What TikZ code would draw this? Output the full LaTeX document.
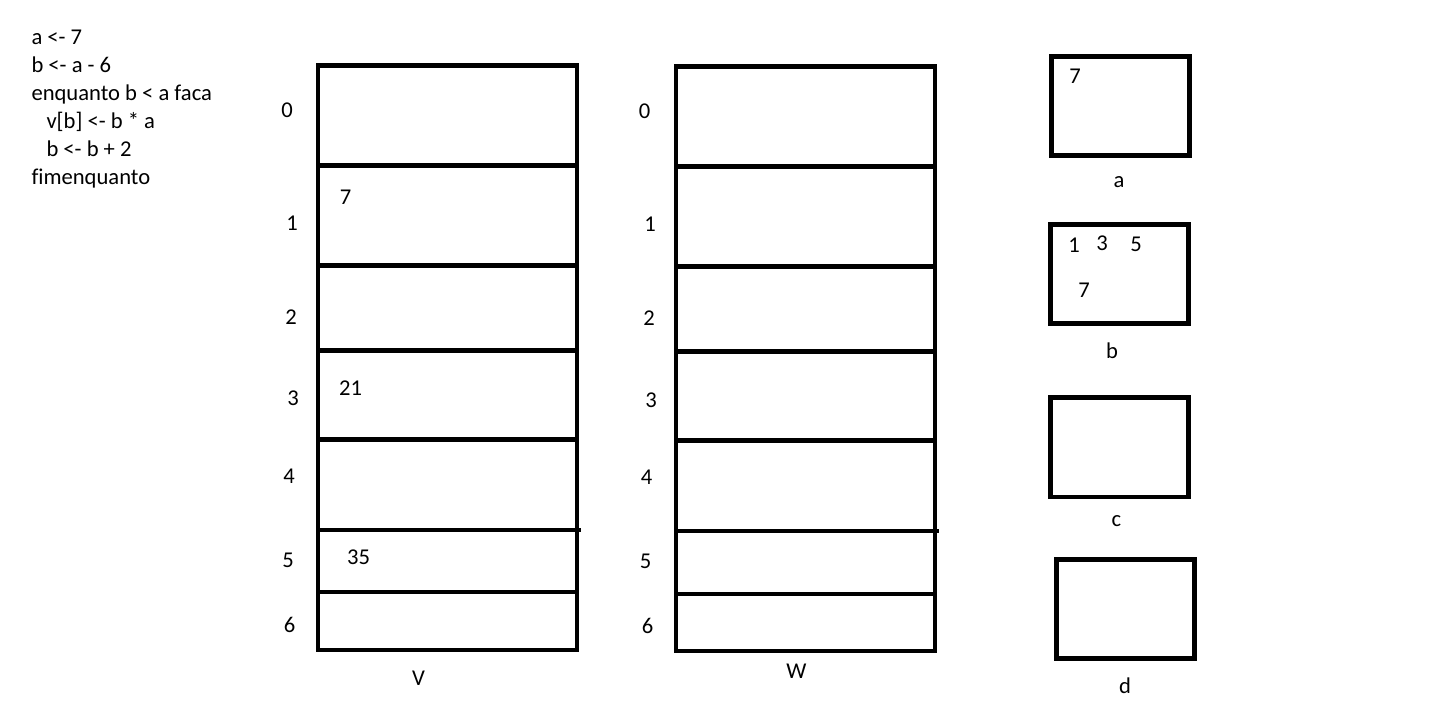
\documentclass[tikz,border=0pt]{standalone}
\usepackage{fontspec}
\setmainfont[Ligatures=NoCommon]{Carlito}
\begin{document}
\begin{tikzpicture}[x=1pt,y=-1pt,
  every node/.style={inner sep=0pt,outer sep=0pt,font=\fontsize{22.6}{28}\selectfont},
  cell/.style={draw,line width=4.3pt,minimum width=259pt},
  varbox/.style={draw,line width=4.3pt,minimum width=138pt,minimum height=99pt},
  code/.style={anchor=base west}]
\useasboundingbox (0,0) rectangle (1438,713);
% code
\node[code] (l1) at (31.5,44) {a <- 7};
\node[code] (l2) at (31.5,72) {b <- a - 6};
\node[code] (l3) at (31.5,100) {enquanto b < a faca};
\node[code] (l4) at (46.5,128) {v[b] <- b * a};
\node[code] (l5) at (46.5,156) {b <- b + 2};
\node[code] (l6) at (31.5,184) {fimenquanto};
% array V
\node[cell,minimum height=100pt] (v0) at (447.5,115.5) {};
\node[cell,minimum height=100pt] (v1) at (447.5,215.5) {};
\node[cell,minimum height=85pt] (v2) at (447.5,308) {};
\node[cell,minimum height=89pt] (v3) at (447.5,395) {};
\node[cell,minimum height=90.5pt] (v4) at (447.5,484.75) {};
\node[cell,minimum height=62pt] (v5) at (447.5,561) {};
\node[cell,minimum height=58pt] (v6) at (447.5,621) {};
\coordinate (vx) at (581,530);
\draw[line width=4.3pt] (v4.south east) -- (vx);
\node (iv0) at (287,110) {0};
\node (iv1) at (292,223) {1};
\node (iv2) at (291,317) {2};
\node (iv3) at (293,398) {3};
\node (iv4) at (289,476) {4};
\node (iv5) at (288,560) {5};
\node (iv6) at (289.5,625) {6};
\node (val1) at (345.5,197.5) {7};
\node (val3) at (350.5,388.5) {21};
\node (val5) at (358.5,557.5) {35};
\node (vlab) at (418.5,678) {V};
% array W
\node[cell,minimum height=100pt] (w0) at (805.5,116.5) {};
\node[cell,minimum height=100pt] (w1) at (805.5,216.5) {};
\node[cell,minimum height=85pt] (w2) at (805.5,309) {};
\node[cell,minimum height=89pt] (w3) at (805.5,396) {};
\node[cell,minimum height=90.5pt] (w4) at (805.5,485.75) {};
\node[cell,minimum height=63pt] (w5) at (805.5,562.5) {};
\node[cell,minimum height=57pt] (w6) at (805.5,622.5) {};
\coordinate (wx) at (939,531);
\draw[line width=4.3pt] (w4.south east) -- (wx);
\node (iw0) at (644.5,111) {0};
\node (iw1) at (650,224) {1};
\node (iw2) at (649,318) {2};
\node (iw3) at (651,400) {3};
\node (iw4) at (646.5,477) {4};
\node (iw5) at (645.5,561.5) {5};
\node (iw6) at (647.5,625.5) {6};
\node (wlab) at (796.5,671) {W};
% variables
\node[varbox] (a) at (1120.5,106) {};
\node (alab) at (1119,182) {a};
\node (aval) at (1075,76.5) {7};
\node[varbox] (b) at (1119.5,274) {};
\node (blab) at (1112,351) {b};
\node (b1) at (1074,245.5) {1};
\node (b3) at (1102,243.5) {3};
\node (b5) at (1136,244) {5};
\node (b7) at (1084,290.5) {7};
\node[varbox,minimum height=99.5pt] (c) at (1119.5,447.25) {};
\node (clab) at (1116.5,521) {c};
\node[varbox] (d) at (1125.5,609) {};
\node (dlab) at (1125,685.5) {d};
\end{tikzpicture}
\end{document}
